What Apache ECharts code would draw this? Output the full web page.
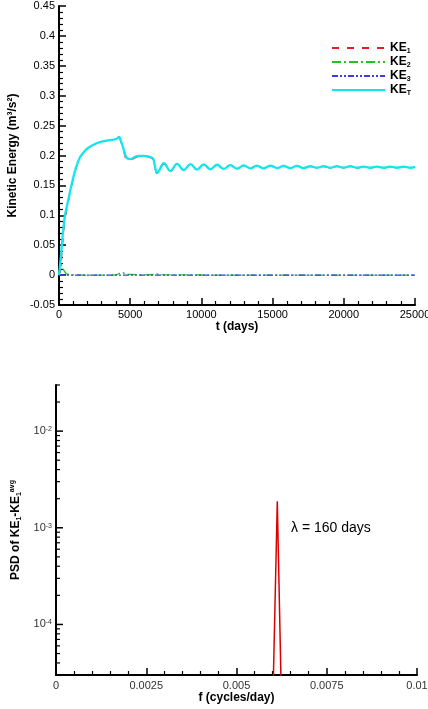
<!DOCTYPE html>
<html>
<head>
<meta charset="utf-8">
<script src="https://cdn.jsdelivr.net/npm/echarts@6/dist/echarts.min.js"></script>
<style>
html,body{margin:0;padding:0;background:#fff;}
#c{width:428px;height:709px;}
</style>
</head>
<body>
<div id="c"></div>
<script>
// ---- Top chart data: kinetic energy vs time (days)
var tMain = [0, 100, 200, 300, 420, 600, 890, 1200, 1475, 1800, 2060, 2600, 3230, 3700, 4050, 4210, 4380, 4520, 4750, 4990, 5300, 5570, 5900, 6160, 6450, 6620, 6740, 6900, 7370, 7820, 8290, 8760, 9230, 9700, 10160, 10630, 11100, 11570, 12030, 12500, 12970, 13440, 13900, 14370, 14840, 15310, 15780, 16240, 16710, 17180, 17650, 18110, 18580, 19050, 19520, 19980, 20450, 20920, 21390, 21850, 22320, 22790, 23260, 23720, 24190, 24660, 25000];
var keT = [0, 0.022, 0.05, 0.076, 0.1, 0.12, 0.152, 0.18, 0.197, 0.207, 0.213, 0.22, 0.2245, 0.226, 0.228, 0.231, 0.222, 0.212, 0.196, 0.194, 0.197, 0.1995, 0.1995, 0.199, 0.197, 0.1945, 0.182, 0.171, 0.187, 0.174, 0.186, 0.1755, 0.1855, 0.1765, 0.185, 0.177, 0.1845, 0.1775, 0.184, 0.178, 0.1835, 0.1785, 0.183, 0.1785, 0.183, 0.179, 0.1825, 0.179, 0.1825, 0.179, 0.182, 0.1795, 0.182, 0.1795, 0.182, 0.1795, 0.182, 0.1795, 0.1815, 0.1795, 0.1815, 0.1795, 0.1815, 0.1795, 0.1815, 0.1795, 0.181];
var ke1 = [0, 0.008, 0.036, 0.065, 0.092, 0.116, 0.15, 0.179, 0.197, 0.207, 0.213, 0.22, 0.2245, 0.226, 0.228, 0.23, 0.221, 0.21, 0.193, 0.192, 0.1955, 0.198, 0.1985, 0.198, 0.196, 0.193, 0.18, 0.169, 0.186, 0.1735, 0.1855, 0.1752, 0.1852, 0.1763, 0.1848, 0.1768, 0.1843, 0.1773, 0.1838, 0.1778, 0.1833, 0.1783, 0.1828, 0.1783, 0.1828, 0.1788, 0.1823, 0.1788, 0.1823, 0.1788, 0.1818, 0.1793, 0.1818, 0.1793, 0.1818, 0.1793, 0.1818, 0.1793, 0.1813, 0.1793, 0.1813, 0.1793, 0.1813, 0.1793, 0.1813, 0.1793, 0.1808];
var tSmall = [0, 60, 120, 200, 300, 450, 650, 1000, 2000, 3000, 4000, 4250, 4450, 4700, 5000, 6000, 6600, 6800, 7100, 8000, 12000, 16000, 20000, 25000];
var ke2 = [0, 0.012, 0.019, 0.015, 0.01, 0.004, 0.001, 0.0005, 0, 0, 0.0005, 0.003, 0.004, 0.002, 0.001, 0.0005, 0.001, 0.002, 0.001, 0.0005, 0, 0, 0, 0];
var ke3 = [0, 0.001, 0.001, 0.0005, 0, 0, 0, 0, 0, 0, 0, 0, 0, 0, 0, 0, 0, 0, 0, 0, 0, 0, 0, 0];
var seriesNames = ['KE1', 'KE2', 'KE3', 'KET'];

// ---- Bottom chart data: PSD vs frequency
var freq = [0.0058, 0.0060, 0.00613, 0.00625, 0.0064];
var psd = [5e-6, 1.2e-5, 1.88e-3, 1.3e-5, 5e-6];
var psdMajorTicks = [1e-4, 1e-3, 1e-2];
var psdMinorTicks = [4e-5, 5e-5, 6e-5, 7e-5, 8e-5, 9e-5, 2e-4, 3e-4, 4e-4, 5e-4, 6e-4, 7e-4, 8e-4, 9e-4, 2e-3, 3e-3, 4e-3, 5e-3, 6e-3, 7e-3, 8e-3, 9e-3, 2e-2, 3e-2];
var annotation = 'λ = 160 days';

function pairs(xs, ys) { return xs.map(function (x, i) { return [x, ys[i]]; }); }
function atZero(ys) { return ys.map(function (y) { return [0, y]; }); }

var FONT = '"Liberation Sans", Arial, sans-serif';
var axisLine = { show: true, onZero: false, lineStyle: { color: '#000', width: 2 } };
var tick = { show: true, inside: true, length: 7, lineStyle: { color: '#000', width: 1.5 } };
var minor = { show: true, splitNumber: 5, length: 4, lineStyle: { color: '#000', width: 1.2 } };
var nameStyle = { fontFamily: FONT, fontWeight: 'bold', fontSize: 12, color: '#000' };

var dashKE1 = [7, 8], dashKE2 = [9, 3, 2, 3], dashKE3 = [6, 2, 2, 2, 2, 2];

function tickRenderer(len, w) {
  return function (params, api) {
    var p = api.coord([api.value(0), api.value(1)]);
    return { type: 'line', shape: { x1: p[0], y1: p[1], x2: p[0] + len, y2: p[1] },
             style: { stroke: '#000', lineWidth: w } };
  };
}

var chart = echarts.init(document.getElementById('c'), null, { renderer: 'canvas' });
chart.setOption({
  backgroundColor: '#fff',
  animation: false,
  textStyle: { fontFamily: FONT },
  grid: [
    { left: 59, top: 6, width: 356, height: 299, outerBoundsMode: 'none', containLabel: false },
    { left: 56, top: 385, width: 361, height: 290, outerBoundsMode: 'none', containLabel: false }
  ],
  legend: {
    data: [
      { name: 'KE1', lineStyle: { type: dashKE1 } },
      { name: 'KE2', lineStyle: { type: dashKE2 } },
      { name: 'KE3', lineStyle: { type: dashKE3 } },
      { name: 'KET' }
    ],
    orient: 'vertical',
    left: 331,
    top: 41,
    padding: 0,
    itemWidth: 53,
    itemHeight: 14,
    itemGap: 0,
    itemStyle: { opacity: 0 },
    formatter: function (n) { return 'KE{s|' + n.slice(2) + '}'; },
    textStyle: {
      fontFamily: FONT, fontWeight: 'bold', fontSize: 12, color: '#000', lineHeight: 14,
      rich: { s: { fontFamily: FONT, fontWeight: 'bold', fontSize: 7, lineHeight: 7, verticalAlign: 'bottom', color: '#000' } }
    }
  },
  xAxis: [
    {
      gridIndex: 0, type: 'value', min: 0, max: 25000, interval: 5000,
      axisLine: axisLine, axisTick: tick, minorTick: minor,
      splitLine: { show: false },
      axisLabel: { fontFamily: FONT, fontSize: 11, color: '#000', margin: 4,
        formatter: function (v) { return String(v); } },
      name: 't (days)', nameLocation: 'middle', nameGap: 16, nameTextStyle: nameStyle
    },
    {
      gridIndex: 1, type: 'value', min: 0, max: 0.01, interval: 0.0025,
      axisLine: axisLine, axisTick: tick, minorTick: minor,
      splitLine: { show: false },
      axisLabel: { fontFamily: FONT, fontSize: 11, color: '#333', margin: 5,
        formatter: function (v) { return String(+v.toFixed(4)); } },
      name: 'f (cycles/day)', nameLocation: 'middle', nameGap: 17, nameTextStyle: nameStyle
    }
  ],
  yAxis: [
    {
      gridIndex: 0, type: 'value', min: -0.05, max: 0.45, interval: 0.05,
      axisLine: axisLine, axisTick: tick, minorTick: minor,
      splitLine: { show: false },
      axisLabel: { fontFamily: FONT, fontSize: 11, color: '#000', margin: 4,
        formatter: function (v) { return String(+v.toFixed(2)); } },
      name: 'Kinetic Energy (m³/s²)', nameLocation: 'middle', nameGap: 28, nameRotate: 90,
      nameTextStyle: nameStyle
    },
    {
      gridIndex: 1, type: 'log', logBase: 10, min: 3e-5, max: 3e-2,
      axisLine: axisLine,
      axisTick: { show: false },
      splitLine: { show: false },
      axisLabel: {
        customValues: psdMajorTicks, fontFamily: FONT, fontSize: 11, color: '#333', margin: 4,
        formatter: function (v) { return '10{s|' + Math.round(Math.log(v) / Math.LN10) + '}'; },
        rich: { s: { fontFamily: FONT, fontSize: 7, lineHeight: 7, verticalAlign: 'top', color: '#333' } }
      },
      name: 'PSD of KE{b|1}-KE{b|1}{t|avg}', nameLocation: 'middle', nameGap: 27, nameRotate: 90,
      nameTextStyle: {
        fontFamily: FONT, fontWeight: 'bold', fontSize: 12, color: '#000', lineHeight: 14,
        rich: {
          b: { fontFamily: FONT, fontWeight: 'bold', fontSize: 7, lineHeight: 7, verticalAlign: 'bottom', color: '#000' },
          t: { fontFamily: FONT, fontWeight: 'bold', fontSize: 7, lineHeight: 7, verticalAlign: 'top', color: '#000' }
        }
      }
    }
  ],
  graphic: [
    { type: 'text', left: 291, top: 521, style: { text: annotation, font: '14px ' + FONT, fill: '#000' } }
  ],
  series: [
    { name: 'KE1', type: 'line', xAxisIndex: 0, yAxisIndex: 0, data: pairs(tMain, ke1), showSymbol: false, symbol: 'none', smooth: 0.4,
      lineStyle: { color: '#e02020', width: 1.3, type: dashKE1 }, itemStyle: { color: '#e02020' } },
    { name: 'KE2', type: 'line', xAxisIndex: 0, yAxisIndex: 0, data: pairs(tSmall, ke2), showSymbol: false, symbol: 'none', smooth: 0.3,
      lineStyle: { color: '#22c322', width: 1.3, type: dashKE2 }, itemStyle: { color: '#22c322' } },
    { name: 'KE3', type: 'line', xAxisIndex: 0, yAxisIndex: 0, data: pairs(tSmall, ke3), showSymbol: false, symbol: 'none',
      lineStyle: { color: '#3a3ae8', width: 1.3, type: dashKE3 }, itemStyle: { color: '#3a3ae8' } },
    { name: 'KET', type: 'line', xAxisIndex: 0, yAxisIndex: 0, data: pairs(tMain, keT), showSymbol: false, symbol: 'none', smooth: 0.4,
      lineStyle: { color: '#12e6f0', width: 2.3 }, itemStyle: { color: '#12e6f0' } },
    { name: 'PSD', type: 'line', xAxisIndex: 1, yAxisIndex: 1, data: pairs(freq, psd), showSymbol: false, symbol: 'none',
      lineStyle: { color: '#dd0000', width: 1.5 }, clip: true },
    { name: 'majorTicks', type: 'custom', xAxisIndex: 1, yAxisIndex: 1, data: atZero(psdMajorTicks),
      renderItem: tickRenderer(7, 1.5), silent: true, clip: false },
    { name: 'minorTicks', type: 'custom', xAxisIndex: 1, yAxisIndex: 1, data: atZero(psdMinorTicks),
      renderItem: tickRenderer(4, 1.2), silent: true, clip: false }
  ]
});
</script>
</body>
</html>
